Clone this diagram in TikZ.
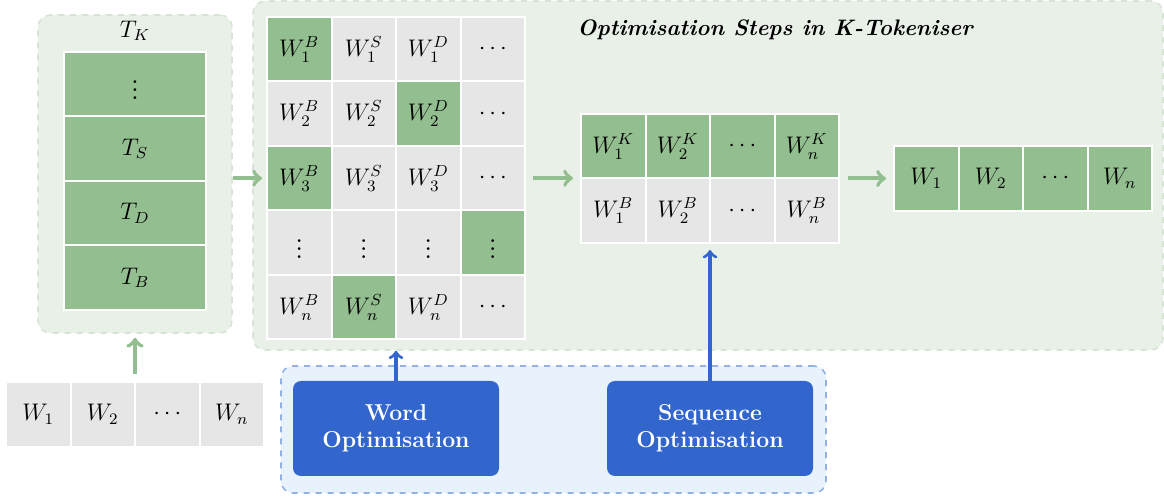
\documentclass[tikz,border=0pt]{standalone}
\usepackage{color}
\definecolor{mygreen}{RGB}{147,190,143}
\definecolor{mypalegreen}{RGB}{232,240,232}
\definecolor{mydashgreen}{RGB}{216,229,214}
\definecolor{mygray}{RGB}{230,230,230}
\definecolor{myblue}{RGB}{51,102,204}
\definecolor{mypaleblue}{RGB}{232,242,253}
\definecolor{mydashblue}{RGB}{146,177,232}
\usepackage{tikz}
\usetikzlibrary{arrows,positioning}

\begin{document}
\begin{tikzpicture}[
  x=0.5pt, y=-0.5pt,
  cell/.style={
    rectangle,
    draw=white,
    line width=1pt,
    fill=mygray,
    font=\large,
    minimum width=32.25pt,
    minimum height=32.25pt,
    inner sep=0pt,
    outer sep=0pt
    },
  gcell/.style={cell, fill=mygreen},
  tcell/.style={gcell, minimum width=71pt},
  dots/.style={font=\Large},
  panel/.style={
    rectangle,
    rounded corners=6pt,
    dashed,
    line width=0.8pt,
    inner sep=0pt
    },
  garrow/.style={->, line width=2pt, draw=mygreen},
  barrow/.style={->, line width=1.6pt, draw=myblue},
  optbox/.style={
    rectangle,
    rounded corners=4pt,
    fill=myblue,
    text=white,
    font=\fontsize{11.5}{13.5}\selectfont\bfseries,
    align=center,
    minimum width=103pt,
    minimum height=47.5pt
    }
]
\useasboundingbox (0,0) rectangle (1164,497);

% panels
\node [panel, fill=mypalegreen, draw=mydashgreen, minimum width=97pt, minimum height=159pt] (tkbox) at (135,174) {};
\node [panel, fill=mypalegreen, draw=mydashgreen, minimum width=455pt, minimum height=174.5pt] (bg) at (708,175.5) {};
\node [panel, fill=mypaleblue, draw=mydashblue, minimum width=272.5pt, minimum height=63.5pt] (optpanel) at (553.5,429.5) {};

% tokeniser stack
\node [font=\large] (tklabel) at (135,31) {$T_K$};
\node [tcell, dots] (t1) at (135,84.25) {$\vdots$};
\node [tcell, below=0pt of t1] (t2) {$T_S$};
\node [tcell, below=0pt of t2] (t3) {$T_D$};
\node [tcell, below=0pt of t3] (t4) {$T_B$};

% input words
\node [cell] (w1) at (38.25,414.5) {$W_1$};
\node [cell, right=0pt of w1] (w2) {$W_2$};
\node [cell, right=0pt of w2] (w3) {$\cdots$};
\node [cell, right=0pt of w3] (w4) {$W_n$};

% candidate matrix
\node [font=\fontsize{11.2}{13}\selectfont\bfseries\itshape] (title) at (775,30) {Optimisation Steps in K-Tokeniser};
\node [gcell] (m11) at (299.25,49.25) {$W_1^B$};
\node [cell, right=0pt of m11] (m12) {$W_1^S$};
\node [cell, right=0pt of m12] (m13) {$W_1^D$};
\node [cell, right=0pt of m13] (m14) {$\cdots$};
\node [cell, below=0pt of m11] (m21) {$W_2^B$};
\node [cell, right=0pt of m21] (m22) {$W_2^S$};
\node [gcell, right=0pt of m22] (m23) {$W_2^D$};
\node [cell, right=0pt of m23] (m24) {$\cdots$};
\node [gcell, below=0pt of m21] (m31) {$W_3^B$};
\node [cell, right=0pt of m31] (m32) {$W_3^S$};
\node [cell, right=0pt of m32] (m33) {$W_3^D$};
\node [cell, right=0pt of m33] (m34) {$\cdots$};
\node [cell, dots, below=0pt of m31] (m41) {$\vdots$};
\node [cell, dots, right=0pt of m41] (m42) {$\vdots$};
\node [cell, dots, right=0pt of m42] (m43) {$\vdots$};
\node [gcell, dots, right=0pt of m43] (m44) {$\vdots$};
\node [cell, below=0pt of m41] (m51) {$W_n^B$};
\node [gcell, right=0pt of m51] (m52) {$W_n^S$};
\node [cell, right=0pt of m52] (m53) {$W_n^D$};
\node [cell, right=0pt of m53] (m54) {$\cdots$};

% selected words
\node [gcell] (k11) at (613.25,146.25) {$W_1^K$};
\node [gcell, right=0pt of k11] (k12) {$W_2^K$};
\node [gcell, right=0pt of k12] (k13) {$\cdots$};
\node [gcell, right=0pt of k13] (k14) {$W_n^K$};
\node [cell, below=0pt of k11] (k21) {$W_1^B$};
\node [cell, right=0pt of k21] (k22) {$W_2^B$};
\node [cell, right=0pt of k22] (k23) {$\cdots$};
\node [cell, right=0pt of k23] (k24) {$W_n^B$};

% output words
\node [gcell] (o1) at (926.25,178.5) {$W_1$};
\node [gcell, right=0pt of o1] (o2) {$W_2$};
\node [gcell, right=0pt of o2] (o3) {$\cdots$};
\node [gcell, right=0pt of o3] (o4) {$W_n$};

% optimisers
\node [optbox] (word) at (396,428.5) {Word\\Optimisation};
\node [optbox] (seq) at (710,428.5) {Sequence\\Optimisation};

% arrows
\draw [garrow, shorten <=4pt, shorten >=2pt] (w2.north east) -- (w2.north east |- tkbox.south);
\draw [garrow, shorten >=2.5pt] (tkbox.east |- m31) -- (m31.west);
\draw [garrow, shorten <=4pt, shorten >=4pt] (m34.east) -- (m34.east -| k11.west);
\draw [garrow, shorten <=4.5pt, shorten >=4pt] (k14.east |- o1) -- (o1.west);
\draw [barrow] (word.north) -- (word.north |- bg.south);
\draw [barrow, shorten >=3.5pt] (seq.north) -- (k22.south east);

\end{tikzpicture}
\end{document}
